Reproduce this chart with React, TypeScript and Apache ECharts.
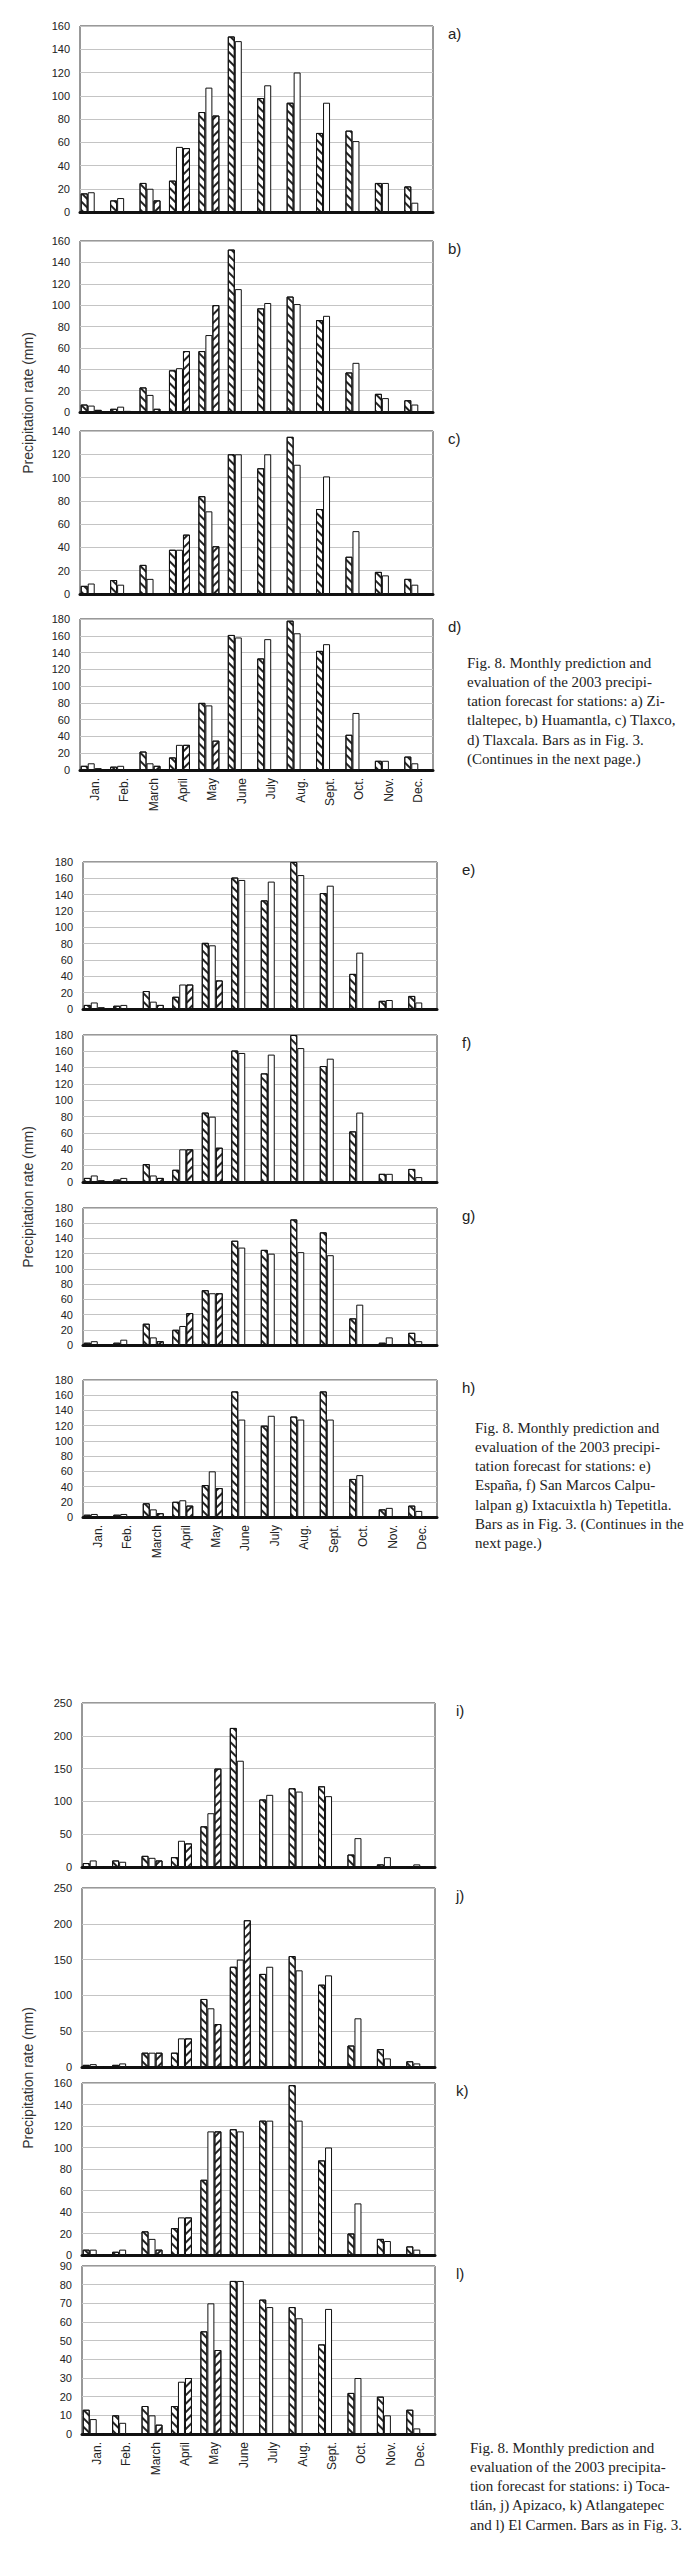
import React, { useEffect, useRef } from "react";
import * as echarts from "echarts";

const MONTHS = ["Jan.", "Feb.", "March", "April", "May", "June", "July", "Aug.", "Sept.", "Oct.", "Nov.", "Dec."];

// a) Zitlaltepec
const aHatch = [16, 10, 25, 27, 86, 151, 98, 94, 68, 70, 25, 22];
const aWhite = [17, 12, 20, 56, 107, 147, 109, 120, 94, 61, 25, 8];
const aBack = [0, 0, 10, 55, 83, 0, 0, 0, 0, 0, 0, 0];
// b) Huamantla
const bHatch = [7, 3, 23, 39, 57, 152, 97, 108, 86, 37, 17, 11];
const bWhite = [6, 5, 16, 41, 72, 115, 102, 101, 90, 46, 13, 7];
const bBack = [2, 1, 3, 57, 100, 0, 0, 0, 0, 0, 0, 0];
// c) Tlaxco
const cHatch = [7, 12, 25, 38, 84, 120, 108, 135, 73, 32, 19, 13];
const cWhite = [9, 8, 13, 38, 71, 120, 120, 111, 101, 54, 16, 8];
const cBack = [0, 0, 0, 51, 41, 0, 0, 0, 0, 0, 0, 0];
// d) Tlaxcala
const dHatch = [5, 4, 22, 15, 80, 161, 133, 178, 142, 42, 11, 16];
const dWhite = [8, 5, 8, 30, 77, 158, 156, 163, 150, 68, 11, 8];
const dBack = [2, 0, 5, 30, 35, 0, 0, 0, 0, 0, 0, 0];
// e) España
const eHatch = [5, 4, 22, 15, 81, 161, 133, 180, 142, 43, 10, 16];
const eWhite = [8, 5, 9, 30, 78, 158, 156, 164, 151, 69, 11, 8];
const eBack = [2, 0, 5, 30, 35, 0, 0, 0, 0, 0, 0, 0];
// f) San Marcos Calpulalpan
const fHatch = [5, 3, 22, 15, 85, 161, 133, 180, 142, 62, 10, 16];
const fWhite = [8, 5, 8, 40, 80, 158, 156, 164, 151, 85, 10, 6];
const fBack = [2, 0, 5, 40, 42, 0, 0, 0, 0, 0, 0, 0];
// g) Ixtacuixtla
const gHatch = [3, 3, 28, 20, 72, 137, 125, 165, 148, 35, 3, 16];
const gWhite = [5, 7, 10, 25, 68, 128, 120, 122, 118, 53, 10, 5];
const gBack = [0, 0, 5, 42, 68, 0, 0, 0, 0, 0, 0, 0];
// h) Tepetitla
const hHatch = [3, 3, 18, 20, 42, 165, 120, 132, 165, 50, 10, 15];
const hWhite = [4, 4, 10, 22, 60, 128, 133, 128, 128, 55, 12, 8];
const hBack = [0, 0, 5, 15, 38, 0, 0, 0, 0, 0, 0, 0];
// i) Tocatlán
const iHatch = [6, 10, 17, 15, 62, 212, 103, 120, 123, 19, 4, 1];
const iWhite = [10, 8, 14, 40, 82, 162, 110, 115, 108, 44, 15, 4];
const iBack = [0, 0, 10, 36, 150, 0, 0, 0, 0, 0, 0, 0];
// j) Apizaco
const jHatch = [3, 3, 20, 20, 95, 140, 130, 155, 115, 30, 25, 8];
const jWhite = [4, 5, 20, 40, 82, 150, 140, 135, 128, 68, 12, 5];
const jBack = [0, 0, 20, 40, 60, 205, 0, 0, 0, 0, 0, 0];
// k) Atlangatepec
const kHatch = [5, 3, 22, 25, 70, 117, 125, 158, 88, 20, 15, 8];
const kWhite = [5, 5, 15, 35, 115, 115, 125, 125, 100, 48, 13, 5];
const kBack = [0, 0, 5, 35, 115, 0, 0, 0, 0, 0, 0, 0];
// l) El Carmen
const lHatch = [13, 10, 15, 15, 55, 82, 72, 68, 48, 22, 20, 13];
const lWhite = [8, 6, 10, 28, 70, 82, 68, 62, 67, 30, 10, 3];
const lBack = [0, 0, 5, 30, 45, 0, 0, 0, 0, 0, 0, 0];

const ZERO = [0, 0, 0, 0, 0, 0, 0, 0, 0, 0, 0, 0];

const PANEL_DATA = [
  { label: "a)", hatch: aHatch, white: aWhite, back: aBack, max: 160, step: 20 },
  { label: "b)", hatch: bHatch, white: bWhite, back: bBack, max: 160, step: 20 },
  { label: "c)", hatch: cHatch, white: cWhite, back: cBack, max: 140, step: 20 },
  { label: "d)", hatch: dHatch, white: dWhite, back: dBack, max: 180, step: 20 },
  { label: "e)", hatch: eHatch, white: eWhite, back: eBack, max: 180, step: 20 },
  { label: "f)", hatch: fHatch, white: fWhite, back: fBack, max: 180, step: 20 },
  { label: "g)", hatch: gHatch, white: gWhite, back: gBack, max: 180, step: 20 },
  { label: "h)", hatch: hHatch, white: hWhite, back: hBack, max: 180, step: 20 },
  { label: "i)", hatch: iHatch, white: iWhite, back: iBack, max: 250, step: 50 },
  { label: "j)", hatch: jHatch, white: jWhite, back: jBack, max: 250, step: 50 },
  { label: "k)", hatch: kHatch, white: kWhite, back: kBack, max: 160, step: 20 },
  { label: "l)", hatch: lHatch, white: lWhite, back: lBack, max: 90, step: 10 },
];

const CAPTION_1 = [
  "Fig. 8. Monthly prediction and",
  "evaluation of the 2003 precipi-",
  "tation forecast for stations: a) Zi-",
  "tlaltepec, b) Huamantla, c) Tlaxco,",
  "d) Tlaxcala. Bars as in Fig. 3.",
  "(Continues in the next page.)",
];
const CAPTION_2 = [
  "Fig. 8. Monthly prediction and",
  "evaluation of the 2003 precipi-",
  "tation forecast for stations: e)",
  "España, f) San Marcos Calpu-",
  "lalpan g) Ixtacuixtla h) Tepetitla.",
  "Bars as in Fig. 3. (Continues in the",
  "next page.)",
];
const CAPTION_3 = [
  "Fig. 8. Monthly prediction and",
  "evaluation of the 2003 precipita-",
  "tion forecast for stations: i) Toca-",
  "tlán, j) Apizaco, k) Atlangatepec",
  "and l) El Carmen. Bars as in Fig. 3.",
];
const Y_TITLE = "Precipitation rate (mm)";

// layout (pixels)
const LAYOUT = [
  { left: 80, top: 26, width: 353, height: 186, lx: 448, months: false },
  { left: 80, top: 241, width: 353, height: 171, lx: 448, months: false },
  { left: 80, top: 431, width: 353, height: 163, lx: 448, months: false },
  { left: 80, top: 619, width: 353, height: 151, lx: 448, months: true },
  { left: 83, top: 862, width: 354, height: 147, lx: 462, months: false },
  { left: 83, top: 1035, width: 354, height: 147, lx: 462, months: false },
  { left: 83, top: 1208, width: 354, height: 137, lx: 462, months: false },
  { left: 83, top: 1380, width: 354, height: 137, lx: 462, months: true },
  { left: 82, top: 1703, width: 353, height: 164, lx: 456, months: false },
  { left: 82, top: 1888, width: 353, height: 179, lx: 456, months: false },
  { left: 82, top: 2083, width: 353, height: 172, lx: 456, months: false },
  { left: 82, top: 2266, width: 353, height: 168, lx: 456, months: true },
];
const CAPTION_POS = [
  { x: 467, y: 655, lines: CAPTION_1 },
  { x: 475, y: 1420, lines: CAPTION_2 },
  { x: 470, y: 2440, lines: CAPTION_3 },
];
const YTITLE_POS = [
  { x: 28, y: 403 },
  { x: 28, y: 1197 },
  { x: 28, y: 2078 },
];

const SANS = "'Liberation Sans', Arial, sans-serif";
const SERIF = "'Liberation Serif', 'Times New Roman', serif";

const hatchDecal = (dir: number) => ({
  symbol: "rect",
  symbolSize: 1,
  dashArrayX: [1, 0],
  dashArrayY: [1.1, 3.2],
  rotation: dir * Math.PI / 4,
  color: "#222",
});

export default function App() {
  const ref = useRef<HTMLDivElement>(null);
  useEffect(() => {
    if (!ref.current) return;
    const chart = echarts.init(ref.current, undefined, { renderer: "svg" });
    const grid: any[] = [];
    const xAxis: any[] = [];
    const yAxis: any[] = [];
    const series: any[] = [];
    const graphic: any[] = [];

    PANEL_DATA.forEach((p, i) => {
      const L = LAYOUT[i];
      grid.push({
        left: L.left, top: L.top, width: L.width, height: L.height,
        show: true, borderColor: "#333", borderWidth: 1, backgroundColor: "#fff",
      });
      xAxis.push({
        type: "category", gridIndex: i, data: MONTHS,
        axisTick: { show: false },
        axisLine: { show: true, lineStyle: { color: "#111", width: 3 } },
        axisLabel: {
          show: L.months, rotate: 90, fontSize: 12, color: "#222", fontFamily: SANS, margin: 8, interval: 0,
        },
      });
      yAxis.push({
        type: "value", gridIndex: i, min: 0, max: p.max, interval: p.step,
        axisLine: { show: false }, axisTick: { show: false },
        axisLabel: { fontSize: 11, color: "#222", fontFamily: SANS, margin: 10 },
        splitLine: { show: true, lineStyle: { color: "#c4c4c4", width: 1 } },
      });
      const common = {
        type: "bar", xAxisIndex: i, yAxisIndex: i, barWidth: 7, barGap: "0%",
        silent: true,
      };
      series.push({
        ...common, name: "hatch" + i, data: p.hatch,
        itemStyle: { color: "#fff", borderColor: "#111", borderWidth: 1, decal: hatchDecal(1) },
      });
      series.push({
        ...common, name: "white" + i, data: p.white,
        itemStyle: { color: "#fff", borderColor: "#111", borderWidth: 1 },
      });
      series.push({
        ...common, name: "back" + i, data: p.back,
        itemStyle: { color: "#fff", borderColor: "#111", borderWidth: 1, decal: hatchDecal(-1) },
      });
      series.push({
        ...common, name: "flat" + i, data: ZERO,
        itemStyle: { color: "#fff", borderColor: "#111", borderWidth: 1 },
      });
      graphic.push({
        type: "text", left: L.lx, top: L.top + 0,
        style: { text: p.label, font: `15px ${SANS}`, fill: "#222" },
      });
    });

    YTITLE_POS.forEach((pos) => {
      graphic.push({
        type: "text", x: pos.x, y: pos.y, rotation: Math.PI / 2,
        style: { text: Y_TITLE, font: `14px ${SANS}`, fill: "#333", align: "center", verticalAlign: "middle" },
      });
    });

    CAPTION_POS.forEach((c) => {
      c.lines.forEach((line, k) => {
        graphic.push({
          type: "text", x: c.x, y: c.y + k * 19.3,
          style: { text: line, font: `15px ${SERIF}`, fill: "#222", verticalAlign: "top" },
        });
      });
    });

    chart.setOption({
      animation: false,
      backgroundColor: "#fff",
      grid, xAxis, yAxis, series, graphic,
    });
    return () => chart.dispose();
  }, []);
  return <div ref={ref} style={{ position: "absolute", left: 0, top: 0, width: 700, height: 2550 }} />;
}
